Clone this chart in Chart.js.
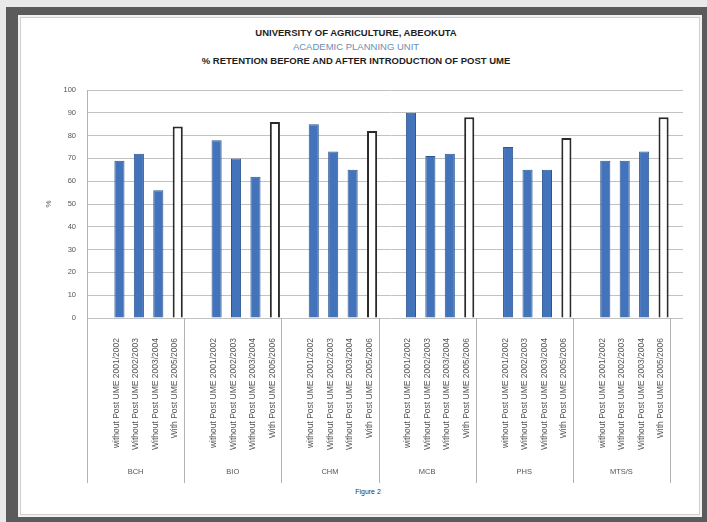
<!DOCTYPE html>
<html><head><meta charset="utf-8">
<script src="https://cdn.jsdelivr.net/npm/chart.js@4.4.0/dist/chart.umd.min.js"></script>
<style>
html,body{margin:0;padding:0;}
body{width:707px;height:522px;background:#e9e9e9;position:relative;overflow:hidden;font-family:"Liberation Sans",Arial,sans-serif;color:#222;}
#frame{position:absolute;left:6px;top:7px;width:701px;height:515px;background:#5b5b5b;}
#inner{position:absolute;left:18px;top:15px;width:684px;height:502px;background:#f2f2f2;}
#paper{position:absolute;left:20px;top:17px;width:680px;height:498px;background:#fff;border:1px solid #cfcfcf;box-sizing:border-box;}
.t{position:absolute;left:0;width:712px;text-align:center;font-size:9.5px;line-height:10px;color:#1e1e1e;white-space:nowrap;}
#t1{top:28px;font-weight:bold;}
#t2{top:42px;color:#6d8db4;}
#t3{top:56px;font-weight:bold;}
#fig{position:absolute;left:0;width:736px;text-align:center;top:487px;font-size:7px;line-height:10px;color:#333333;}
#wrap{position:absolute;left:0;top:0;width:707px;height:522px;}
</style></head>
<body>
<div id="frame"></div><div id="inner"></div><div id="paper"></div>
<div class="t" id="t1">UNIVERSITY OF AGRICULTURE, ABEOKUTA</div>
<div class="t" id="t2">ACADEMIC PLANNING UNIT</div>
<div class="t" id="t3">% RETENTION BEFORE AND AFTER INTRODUCTION OF POST UME</div>
<div id="fig">Figure 2</div>
<div id="wrap"><canvas id="c" width="707" height="522"></canvas></div>
<script>
// ---- data ----
const groups = ['BCH', 'BIO', 'CHM', 'MCB', 'PHS', 'MTS/S'];
const seriesNames = ['without Post UME 2001/2002', 'Without Post UME 2002/2003', 'Without Post UME 2003/2004', 'With Post UME 2005/2006'];
const without0102 = [69, 78, 85, 90, 75, 69];
const without0203 = [72, 70, 73, 71, 65, 69];
const without0304 = [56, 62, 65, 72, 65, 73];
const with0506 = [84, 86, 82, 88, 79, 88];
const yMin = 0, yMax = 100, yStep = 10;
const yTitle = '%';

const DEPTH = 13; // 3D depth shift of the front labels

const blueStyle = {backgroundColor: '#4273bb', borderColor: '#2c5690', borderWidth: 1};
const whiteStyle = {backgroundColor: '#ffffff', borderColor: '#2a2a2a', borderWidth: 2};

const groupDividers = {
  id: 'groupDividers',
  afterDraw(chart) {
    const xs = chart.scales.x, x2 = chart.scales.x2, ctx = chart.ctx;
    const step = xs.getPixelForValue(1) - xs.getPixelForValue(0);
    ctx.save();
    ctx.strokeStyle = '#b3b3b3';
    ctx.lineWidth = 1;
    for (let i = 0; i <= groups.length; i++) {
      const px = Math.round(xs.getPixelForValue(0) - step / 2 + i * step - DEPTH) + 0.5;
      ctx.beginPath();
      ctx.moveTo(px, i === 0 ? chart.chartArea.top : xs.top);
      ctx.lineTo(px, x2.bottom - 7);
      ctx.stroke();
    }
    ctx.restore();
  }
};

new Chart(document.getElementById('c'), {
  type: 'bar',
  data: {
    labels: groups,
    datasets: [
      Object.assign({label: seriesNames[0], data: without0102}, blueStyle),
      Object.assign({label: seriesNames[1], data: without0203}, blueStyle),
      Object.assign({label: seriesNames[2], data: without0304}, blueStyle),
      Object.assign({label: seriesNames[3], data: with0506}, whiteStyle)
    ]
  },
  options: {
    responsive: false,
    animation: false,
    devicePixelRatio: 1,
    categoryPercentage: 0.8,
    barPercentage: 0.52,
    layout: {padding: {left: 40, right: 24, top: 90, bottom: 32}},
    plugins: {legend: {display: false}, tooltip: {enabled: false}},
    scales: {
      x: {
        type: 'category',
        position: 'bottom',
        weight: 0,
        grid: {display: false},
        border: {display: false},
        ticks: {
          autoSkip: false, minRotation: 90, maxRotation: 90, padding: 12,
          labelOffset: -32,
          color: '#555',
          font: {family: '"Liberation Sans", Arial, sans-serif', size: 8.5, lineHeight: '19.5px'},
          callback: () => seriesNames
        },
        afterFit(s) { s.height = 135; s.paddingLeft = 0; s.paddingRight = 0; }
      },
      x2: {
        type: 'category',
        labels: groups,
        position: 'bottom',
        weight: 1,
        offset: true,
        grid: {display: false},
        border: {display: false},
        ticks: {
          autoSkip: false, maxRotation: 0, padding: 6, labelOffset: -DEPTH,
          color: '#555',
          font: {family: '"Liberation Sans", Arial, sans-serif', size: 7.5}
        },
        afterFit(s) { s.height = 37; s.paddingLeft = 0; s.paddingRight = 0; }
      },
      y: {
        min: yMin, max: yMax,
        grid: {color: '#c2c2c2', tickLength: 13, lineWidth: 1},
        border: {display: false},
        ticks: {
          stepSize: yStep, padding: 11, color: '#555',
          font: {family: '"Liberation Sans", Arial, sans-serif', size: 7.5}
        },
        title: {
          display: true, text: yTitle, color: '#555',
          font: {family: '"Liberation Sans", Arial, sans-serif', size: 8},
          padding: {top: 4, bottom: 0}
        },
        afterFit(s) { s.width = 60; }
      }
    }
  },
  plugins: [groupDividers]
});
</script>
</body></html>
